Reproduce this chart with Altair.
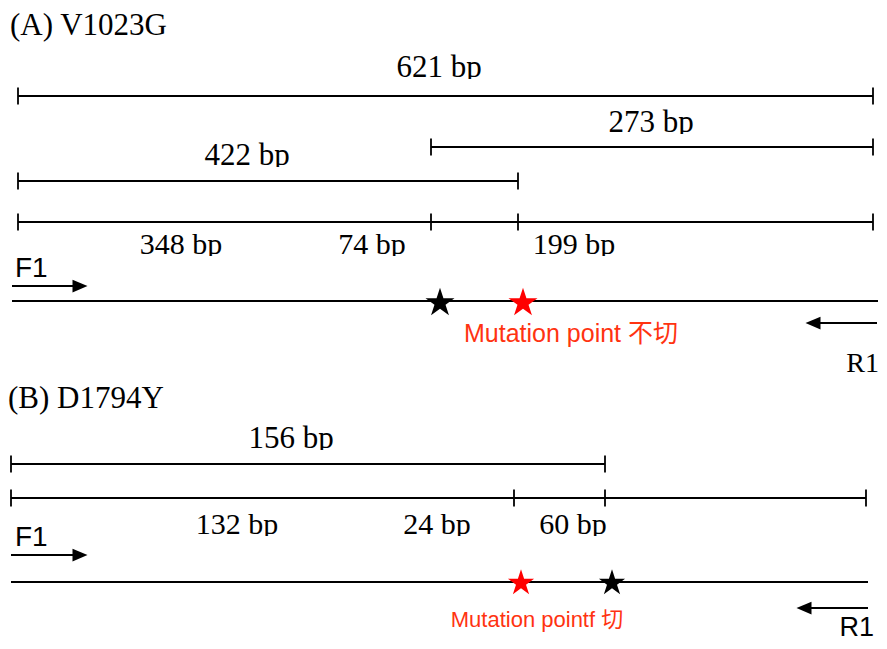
import altair as alt
import pandas as pd

SERIF = "Liberation Serif, Times New Roman, serif"
SANS = "Liberation Sans, Arial, Noto Sans CJK SC, sans-serif"
RED = "#ff0000"
RED_TEXT = "#ff3311"
STAR = ("M0,-1L0.225,-0.309L0.951,-0.309L0.363,0.118L0.588,0.809L0,0.382"
        "L-0.588,0.809L-0.363,0.118L-0.951,-0.309L-0.225,-0.309Z")
HEAD_R = "M-1,-0.85L1,0L-1,0.85Z"
HEAD_L = "M1,-0.85L-1,0L1,0.85Z"

# horizontal segments (x1, x2, y) in page pixels
seg_x1 = [18, 431, 18, 18, 12, 11, 11, 11]
seg_x2 = [873, 873, 518, 873, 878, 605, 866, 868]
seg_y = [96, 147, 181, 222, 301, 464, 498, 582]

# end/cut ticks (x, y)
tick_x = [18, 873, 431, 873, 18, 518, 18, 431, 518, 873, 11, 605, 11, 514, 605, 866]
tick_y = [96, 96, 147, 147, 181, 181, 222, 222, 222, 222, 464, 464, 498, 498, 498, 498]

# primer arrows (shaft x1, x2, y, direction)
arr_x1 = [12, 877, 11, 868]
arr_x2 = [78, 810, 76, 801]
arr_y = [286, 323, 555, 608]
arr_dir = ["right", "left", "right", "left"]
arr_head_x = [80, 813, 80, 804]

# stars
star_x = [440, 523, 521, 612]
star_y = [303, 303, 583, 583]
star_color = ["black", "red", "red", "black"]
star_panel = ["A", "A", "B", "B"]

# serif labels
sl_text = ["(A) V1023G", "621 bp", "273 bp", "422 bp", "348 bp", "74 bp", "199 bp", "R1",
           "(B) D1794Y", "156 bp", "132 bp", "24 bp", "60 bp"]
sl_x = [10, 439, 651, 247, 181, 372, 574, 879, 8, 291, 237, 437, 573]
sl_y = [35, 77, 132, 165, 254, 254, 254, 372, 408, 448, 534, 534, 534]
sl_align = ["left", "center", "center", "center", "center", "center", "center", "right",
            "left", "center", "center", "center", "center"]
sl_size = [31, 31, 31, 31, 30, 30, 30, 28, 31, 31, 30, 30, 30]

# sans labels
ss_text = ["F1", "F1", "R1", "Mutation point 不切", "Mutation pointf 切"]
ss_x = [15, 15, 874, 571, 537]
ss_y = [277, 546, 636, 342, 627]
ss_align = ["left", "left", "right", "center", "center"]
ss_size = [28, 28, 27, 25, 22]
ss_color = ["black", "black", "black", "red", "red"]

X = alt.Scale(domain=[8, 879], range=[0, 871])
Y = alt.Scale(domain=[8, 641], range=[0, 633])

segs = pd.DataFrame({"x1": seg_x1, "x2": seg_x2, "y": seg_y})
ticks = pd.DataFrame({"x": tick_x, "y1": [v - 8.5 for v in tick_y], "y2": [v + 8.5 for v in tick_y]})
arrs = pd.DataFrame({"x1": arr_x1, "x2": arr_x2, "y": arr_y, "dir": arr_dir, "hx": arr_head_x})
stars = pd.DataFrame({"x": star_x, "y": star_y, "col": star_color, "panel": star_panel})
sl = pd.DataFrame({"label": sl_text, "x": sl_x, "y": sl_y, "al": sl_align, "fs": sl_size})
ss = pd.DataFrame({"label": ss_text, "x": ss_x, "y": ss_y, "al": ss_align, "fs": ss_size, "col": ss_color})

def xe(f):
    return alt.X(f, scale=X, axis=None)

def ye(f):
    return alt.Y(f, scale=Y, axis=None)

layers = []
layers.append(alt.Chart(segs).mark_rule(color="black", strokeWidth=1.8).encode(
    x=xe("x1:Q"), x2="x2:Q", y=ye("y:Q")))
layers.append(alt.Chart(ticks).mark_rule(color="black", strokeWidth=1.8).encode(
    x=xe("x:Q"), y=ye("y1:Q"), y2="y2:Q"))
layers.append(alt.Chart(arrs).mark_rule(color="black", strokeWidth=2).encode(
    x=xe("x1:Q"), x2="x2:Q", y=ye("y:Q")))
for d, shp in [("right", HEAD_R), ("left", HEAD_L)]:
    layers.append(
        alt.Chart(arrs).transform_filter(alt.datum.dir == d).mark_point(
            shape=shp, filled=True, color="black", size=225, opacity=1, strokeWidth=0).encode(
            x=xe("hx:Q"), y=ye("y:Q")))
for panel, sz in [("A", 930), ("B", 760)]:
    for cname, cval in [("black", "black"), ("red", RED)]:
        layers.append(
            alt.Chart(stars).transform_filter(
                "datum.col == '%s' && datum.panel == '%s'" % (cname, panel)).mark_point(
                shape=STAR, filled=True, color=cval, size=sz, opacity=1, strokeWidth=0).encode(
                x=xe("x:Q"), y=ye("y:Q")))

for a in ["left", "center", "right"]:
    for s in sorted(set(sl_size)):
        layers.append(
            alt.Chart(sl).transform_filter(
                "datum.al == '%s' && datum.fs == %d" % (a, s)).mark_text(
                font=SERIF, fontSize=s, align=a, baseline="alphabetic", color="black").encode(
                x=xe("x:Q"), y=ye("y:Q"), text="label:N"))
    for s in sorted(set(ss_size)):
        for cname, cval in [("black", "black"), ("red", RED_TEXT)]:
            layers.append(
                alt.Chart(ss).transform_filter(
                    "datum.al == '%s' && datum.fs == %d && datum.col == '%s'" % (a, s, cname)).mark_text(
                    font=SANS, fontSize=s, align=a, baseline="alphabetic", color=cval).encode(
                    x=xe("x:Q"), y=ye("y:Q"), text="label:N"))

# the original text boxes cut the descenders of the "bp" labels
layers.append(
    alt.Chart(sl).transform_filter("indexof(datum.label, 'bp') >= 0").transform_calculate(
        cx1="datum.x - 48", cx2="datum.x + 48", cy1="datum.y + 2", cy2="datum.y + 9").mark_rect(
        color="white", opacity=1).encode(
        x=xe("cx1:Q"), x2="cx2:Q", y=ye("cy1:Q"), y2="cy2:Q"))

chart = alt.layer(*layers).properties(
    width=871, height=633, padding=0, autosize=alt.AutoSizeParams(type="none"),
    background="white").configure_view(stroke=None)

chart.save("out.html", embed_options={"renderer": "svg", "actions": False})
